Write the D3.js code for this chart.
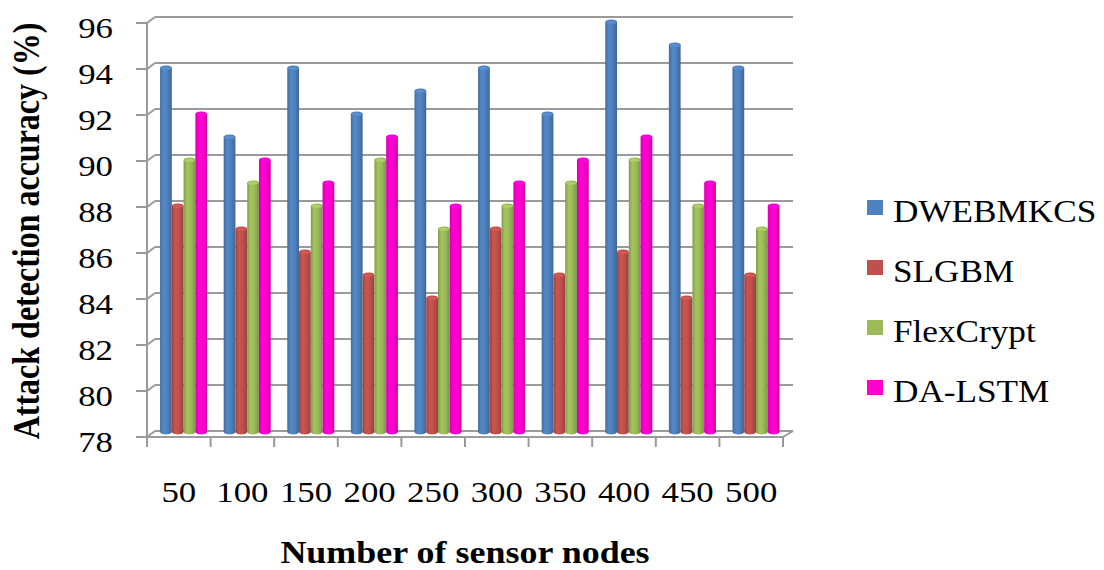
<!DOCTYPE html>
<html>
<head>
<meta charset="utf-8">
<script src="https://cdn.jsdelivr.net/npm/d3@7"></script>
<style>
  html, body { margin: 0; padding: 0; background: #fff; }
  svg { display: block; }
  svg text { font-family: "Liberation Serif", "Times New Roman", serif; }
</style>
</head>
<body>
<svg id="chart" width="1104" height="570"></svg>
<script>
(function () {
	'use strict';

	// --- Data ---
	var categories = ['50', '100', '150', '200', '250', '300', '350', '400', '450', '500'];
	var seriesNames = ['DWEBMKCS', 'SLGBM', 'FlexCrypt', 'DA-LSTM'];
	var dwebmkcs  = [94, 91, 94, 92, 93, 94, 92, 96, 95, 94];
	var slgbm     = [88, 87, 86, 85, 84, 87, 85, 86, 84, 85];
	var flexcrypt = [90, 89, 88, 90, 87, 88, 89, 90, 88, 87];
	var daLstm    = [92, 90, 89, 91, 88, 89, 90, 91, 89, 88];
	var yTicks    = [78, 80, 82, 84, 86, 88, 90, 92, 94, 96];

	var seriesValues = [dwebmkcs, slgbm, flexcrypt, daLstm];
	var COLORS = ['#4f81bd', '#c0504d', '#9bbb59', '#ff00cc'];

	// --- Layout (3D-ish box: back wall offset from front axis) ---
	var FRONT_LEFT  = 147;
	var FRONT_RIGHT = 783;
	var DEPTH_X     = 8;
	var DEPTH_Y     = -6;
	var GRID        = '#9a9a9a';
	var TXT_SX      = 1.16;   // text looks horizontally stretched in the reference

	var svg = d3.select('#chart');

	var x0 = d3.scaleBand()
		.domain(categories)
		.range([FRONT_LEFT, FRONT_RIGHT])
		.paddingInner(0.26)
		.paddingOuter(0.13);

	var x1 = d3.scaleBand()
		.domain(seriesNames)
		.range([0, x0.bandwidth()]);

	var yFront = d3.scaleLinear().domain([78, 96]).range([437, 23]);

	// gradients for cylinders
	var defs = svg.append('defs');
	COLORS.forEach(function (c, i) {
		var g = defs.append('linearGradient')
			.attr('id', 'cyl' + i)
			.attr('x1', '0%').attr('x2', '100%').attr('y1', '0%').attr('y2', '0%');
		var base = d3.color(c);
		g.append('stop').attr('offset', '0%').attr('stop-color', base.darker(0.5));
		g.append('stop').attr('offset', '30%').attr('stop-color', base.brighter(0.15));
		g.append('stop').attr('offset', '60%').attr('stop-color', base);
		g.append('stop').attr('offset', '100%').attr('stop-color', base.darker(0.6));
	});

	// --- Gridlines on back wall + connectors to front ticks ---
	var grid = svg.append('g').attr('class', 'grid');
	yTicks.forEach(function (v) {
		var yf = yFront(v);
		grid.append('line')
			.attr('x1', FRONT_LEFT + DEPTH_X).attr('x2', FRONT_RIGHT + DEPTH_X + 2)
			.attr('y1', yf + DEPTH_Y).attr('y2', yf + DEPTH_Y)
			.attr('stroke', GRID).attr('stroke-width', 2);
		grid.append('line')
			.attr('x1', FRONT_LEFT).attr('x2', FRONT_LEFT + DEPTH_X)
			.attr('y1', yf).attr('y2', yf + DEPTH_Y)
			.attr('stroke', GRID).attr('stroke-width', 2);
		grid.append('line')
			.attr('x1', FRONT_LEFT - 11).attr('x2', FRONT_LEFT)
			.attr('y1', yf).attr('y2', yf)
			.attr('stroke', GRID).attr('stroke-width', 2);
	});

	// front vertical axis
	grid.append('line')
		.attr('x1', FRONT_LEFT).attr('x2', FRONT_LEFT)
		.attr('y1', yFront(96)).attr('y2', yFront(78) + 10)
		.attr('stroke', GRID).attr('stroke-width', 2);

	// front horizontal axis + right depth edge
	grid.append('line')
		.attr('x1', FRONT_LEFT).attr('x2', FRONT_RIGHT)
		.attr('y1', yFront(78)).attr('y2', yFront(78))
		.attr('stroke', GRID).attr('stroke-width', 2);
	grid.append('line')
		.attr('x1', FRONT_RIGHT).attr('x2', FRONT_RIGHT + DEPTH_X + 2)
		.attr('y1', yFront(78)).attr('y2', yFront(78) + DEPTH_Y)
		.attr('stroke', GRID).attr('stroke-width', 2);

	// category tick marks
	var step = x0.step();
	d3.range(categories.length + 1).forEach(function (i) {
		var xt = FRONT_LEFT + i * step;
		grid.append('line')
			.attr('x1', xt).attr('x2', xt)
			.attr('y1', yFront(78)).attr('y2', yFront(78) + 10)
			.attr('stroke', GRID).attr('stroke-width', 2);
	});

	// --- Bars (cylinders, mid depth) ---
	var bars = svg.append('g').attr('class', 'bars');
	var barDx = DEPTH_X * 0.6;
	var barDy = DEPTH_Y * 0.5;
	categories.forEach(function (cat, ci) {
		seriesNames.forEach(function (name, si) {
			var v = seriesValues[si][ci];
			var bx = x0(cat) + x1(name) + barDx;
			var bw = x1.bandwidth();
			var top = yFront(v) + barDy;
			var bottom = yFront(78) + barDy;
			var ry = 2.2;
			var rx = bw / 2;
			var p = d3.path();
			p.moveTo(bx, top + ry);
			p.lineTo(bx, bottom - ry);
			p.bezierCurveTo(bx, bottom + ry * 0.6, bx + bw, bottom + ry * 0.6, bx + bw, bottom - ry);
			p.lineTo(bx + bw, top + ry);
			p.bezierCurveTo(bx + bw, top - ry * 0.6, bx, top - ry * 0.6, bx, top + ry);
			p.closePath();
			bars.append('path')
				.attr('d', p.toString())
				.attr('fill', 'url(#cyl' + si + ')');
			bars.append('ellipse')
				.attr('cx', bx + rx).attr('cy', top + ry)
				.attr('rx', rx * 0.9).attr('ry', ry * 0.7)
				.attr('fill', d3.color(COLORS[si]).brighter(0.3));
		});
	});

	// --- Text helper with horizontal stretch ---
	function stretchedText(parent, x, y, str, size, anchor, weight, sx) {
		var g = parent.append('g').attr('transform', 'translate(' + x + ',' + y + ') scale(' + sx + ',1)');
		return g.append('text')
			.attr('text-anchor', anchor)
			.attr('font-size', size)
			.attr('font-weight', weight || 'normal')
			.attr('fill', '#000')
			.text(str);
	}

	var labels = svg.append('g').attr('class', 'labels');

	// y tick labels
	yTicks.forEach(function (v) {
		stretchedText(labels, 113, yFront(v) + 14.5, String(v), 30, 'end', 'normal', TXT_SX);
	});

	// x category labels
	categories.forEach(function (cat) {
		stretchedText(labels, x0(cat) + x0.bandwidth() / 2, 502, cat, 30, 'middle', 'normal', TXT_SX);
	});

	// axis titles
	stretchedText(labels, 465, 563, 'Number of sensor nodes', 31, 'middle', 'bold', TXT_SX);
	labels.append('text')
		.attr('transform', 'translate(39,231) rotate(-90) scale(1,' + TXT_SX + ')')
		.attr('text-anchor', 'middle')
		.attr('font-size', 32)
		.attr('font-weight', 'bold')
		.attr('fill', '#000')
		.text('Attack detection accuracy (%)');

	// --- Legend ---
	var legendY = d3.scalePoint().domain(seriesNames).range([200, 380]);
	var legend = svg.append('g').attr('class', 'legend');
	seriesNames.forEach(function (name, i) {
		var ly = legendY(name);
		legend.append('rect')
			.attr('x', 867).attr('y', ly)
			.attr('width', 16).attr('height', 15)
			.attr('fill', COLORS[i]);
		stretchedText(legend, 893, ly + 22, name, 32, 'start', 'normal', 1.1);
	});
})();
</script>
</body>
</html>
